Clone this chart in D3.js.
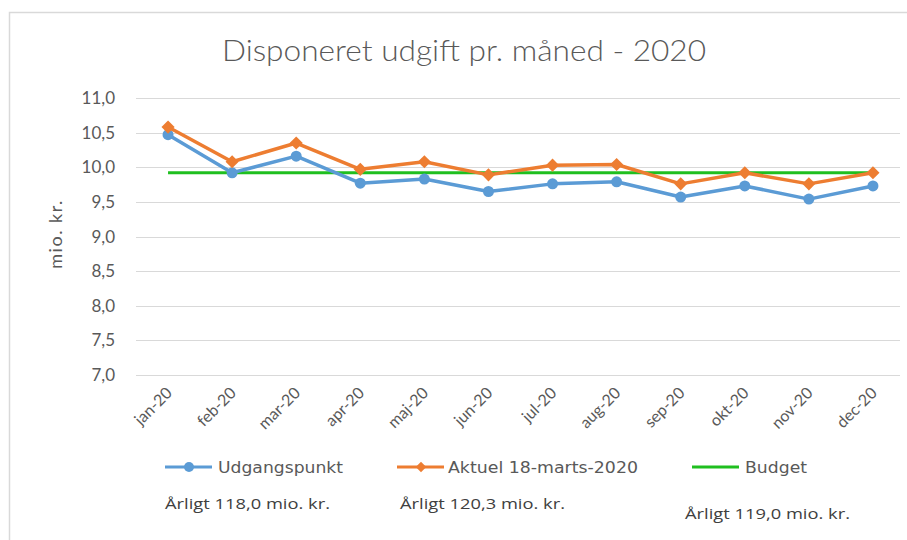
<!DOCTYPE html>
<html lang="da">
<head>
    <meta charset="utf-8">
    <script src="https://d3js.org/d3.v7.min.js"></script>
    <style>
        body { margin: 0; background: #fff; }
        .grid line { stroke: #d9d9d9; stroke-width: 1; }
        .tick-label { font-family: Lato, "Open Sans", sans-serif; fill: #595959; }
    </style>
</head>
<body>
<div id="chart"></div>
<script type="text/javascript">
    // data
    var months = ["jan-20", "feb-20", "mar-20", "apr-20", "maj-20", "jun-20",
                  "jul-20", "aug-20", "sep-20", "okt-20", "nov-20", "dec-20"];
    var udgangspunkt = [10.47, 9.92, 10.16, 9.77, 9.83, 9.65, 9.76, 9.79, 9.57, 9.73, 9.54, 9.73];
    var aktuel = [10.58, 10.08, 10.35, 9.97, 10.08, 9.89, 10.03, 10.04, 9.76, 9.92, 9.76, 9.92];
    var budget = [9.92, 9.92, 9.92, 9.92, 9.92, 9.92, 9.92, 9.92, 9.92, 9.92, 9.92, 9.92];
    var yTicks = [7.0, 7.5, 8.0, 8.5, 9.0, 9.5, 10.0, 10.5, 11.0];
    var seriesNames = ["Udgangspunkt", "Aktuel 18-marts-2020", "Budget"];
    var yearlyNotes = ["Årligt 118,0 mio. kr.", "Årligt 120,3 mio. kr.", "Årligt 119,0 mio. kr."];

    var width = 907, height = 540;
    var blue = "#5b9bd5", orange = "#ed7d31", green = "#1fbf1f";

    var svg = d3.select("#chart").append("svg")
        .attr("width", width)
        .attr("height", height);

    // chart area border (only top/left visible in the crop)
    svg.append("path")
        .attr("d", "M9.5,540 V12.5 H907")
        .attr("fill", "none")
        .attr("stroke", "#d9d9d9")
        .attr("stroke-width", 1.5);

    svg.append("text")
        .attr("x", 222)
        .attr("y", 61)
        .attr("textLength", 484)
        .attr("lengthAdjust", "spacingAndGlyphs")
        .style("font-family", "Lato, 'Open Sans', sans-serif")
        .style("font-weight", 300)
        .style("font-size", "30px")
        .style("fill", "#595959")
        .text("Disponeret udgift pr. måned - 2020");

    var x = d3.scaleBand().domain(months).range([136, 905]);
    var y = d3.scaleLinear().domain([7, 11]).range([375, 98]);
    var cx = function (m) { return x(m) + x.bandwidth() / 2; };

    // gridlines
    svg.append("g").attr("class", "grid")
        .selectAll("line")
        .data(yTicks)
        .enter().append("line")
        .attr("x1", 136).attr("x2", 900)
        .attr("y1", function (d) { return Math.round(y(d)) + 0.5; })
        .attr("y2", function (d) { return Math.round(y(d)) + 0.5; });

    var fmt = function (d) { return d3.format(".1f")(d).replace(".", ","); };

    svg.append("g")
        .selectAll("text")
        .data(yTicks)
        .enter().append("text")
        .attr("class", "tick-label")
        .attr("x", 115)
        .attr("y", function (d) { return y(d) + 6; })
        .attr("text-anchor", "end")
        .style("font-size", "17px")
        .text(fmt);

    svg.append("g")
        .selectAll("text")
        .data(months)
        .enter().append("text")
        .attr("class", "tick-label")
        .attr("text-anchor", "end")
        .attr("transform", function (d) {
            return "translate(" + (cx(d) + 5) + ",394) rotate(-45)";
        })
        .style("font-size", "16px")
        .text(function (d) { return d; });

    svg.append("text")
        .attr("class", "tick-label")
        .attr("transform", "translate(62,234) rotate(-90)")
        .attr("text-anchor", "middle")
        .style("font-size", "18px")
        .style("letter-spacing", "1.5px")
        .text("mio. kr.");

    var line = d3.line()
        .x(function (d, i) { return cx(months[i]); })
        .y(function (d) { return y(d); });

    svg.append("path")
        .datum(budget)
        .attr("d", line)
        .attr("fill", "none")
        .attr("stroke", green)
        .attr("stroke-width", 3);

    svg.append("path")
        .datum(udgangspunkt)
        .attr("d", line)
        .attr("fill", "none")
        .attr("stroke", blue)
        .attr("stroke-width", 3.5)
        .attr("stroke-linejoin", "round");

    svg.append("g")
        .selectAll("circle")
        .data(udgangspunkt)
        .enter().append("circle")
        .attr("cx", function (d, i) { return cx(months[i]); })
        .attr("cy", function (d) { return y(d); })
        .attr("r", 5.5)
        .attr("fill", blue);

    svg.append("path")
        .datum(aktuel)
        .attr("d", line)
        .attr("fill", "none")
        .attr("stroke", orange)
        .attr("stroke-width", 3.5)
        .attr("stroke-linejoin", "round");

    var diamond = d3.symbol().type(d3.symbolDiamond2).size(110);
    svg.append("g")
        .selectAll("path")
        .data(aktuel)
        .enter().append("path")
        .attr("d", diamond)
        .attr("transform", function (d, i) {
            return "translate(" + cx(months[i]) + "," + y(d) + ")";
        })
        .attr("fill", orange);

    // legend
    var legendItems = [
        {lx: 165, tx: 218, tw: 125, color: blue, marker: "circle"},
        {lx: 397, tx: 448, tw: 190, color: orange, marker: "diamond"},
        {lx: 692, tx: 745, tw: 62, color: green, marker: null}
    ];
    var ly = 467;

    legendItems.forEach(function (it, i) {
        svg.append("line")
            .attr("x1", it.lx).attr("x2", it.lx + 47)
            .attr("y1", ly).attr("y2", ly)
            .attr("stroke", it.color)
            .attr("stroke-width", 3);
        if (it.marker === "circle") {
            svg.append("circle")
                .attr("cx", it.lx + 24).attr("cy", ly).attr("r", 5)
                .attr("fill", it.color);
        } else if (it.marker === "diamond") {
            svg.append("path")
                .attr("d", d3.symbol().type(d3.symbolDiamond2).size(70))
                .attr("transform", "translate(" + (it.lx + 24) + "," + ly + ")")
                .attr("fill", it.color);
        }
        svg.append("text")
            .attr("x", it.tx)
            .attr("y", ly + 6)
            .attr("textLength", it.tw)
            .attr("lengthAdjust", "spacingAndGlyphs")
            .style("font-family", "'DejaVu Sans', Verdana, sans-serif")
            .style("font-size", "15px")
            .style("fill", "#595959")
            .text(seriesNames[i]);
    });

    var notePos = [[165, 509], [400, 509], [685, 519]];
    svg.append("g")
        .selectAll("text")
        .data(yearlyNotes)
        .enter().append("text")
        .attr("x", function (d, i) { return notePos[i][0]; })
        .attr("y", function (d, i) { return notePos[i][1]; })
        .attr("textLength", 165)
        .attr("lengthAdjust", "spacingAndGlyphs")
        .style("font-family", "'Open Sans', sans-serif")
        .style("font-size", "15px")
        .style("fill", "#404040")
        .text(function (d) { return d; });
</script>
</body>
</html>
